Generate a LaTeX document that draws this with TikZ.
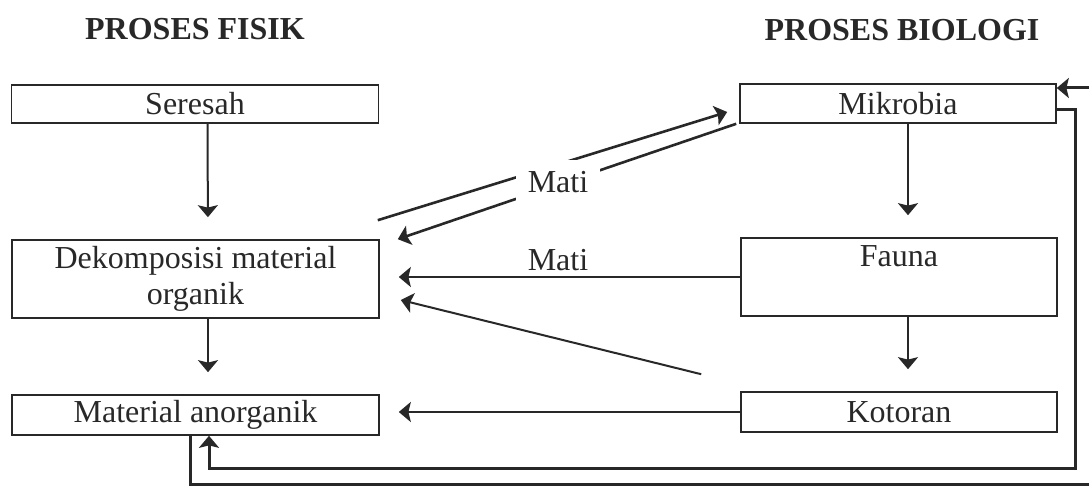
\documentclass[tikz,border=0pt]{standalone}
\usepackage{fontspec}
\setmainfont{Liberation Serif}
\usetikzlibrary{arrows.meta,positioning}
\definecolor{inkgray}{RGB}{40,40,40}

\begin{document}
\begin{tikzpicture}[x=0.5pt, y=-0.5pt,
		font=\fontsize{16}{18}\selectfont, text=inkgray,
		procbox/.style={draw=inkgray, line width=0.8pt, minimum width=183.5pt,
			minimum height=20pt, align=center, inner sep=2pt},
		biobox/.style={procbox, minimum width=158pt},
		headtxt/.style={font=\fontsize{16}{18}\selectfont\bfseries},
		matilbl/.style={fill=white, inner sep=6pt, anchor=base},
		arrow/.style={-{Stealth[length=6pt,width=10pt,inset=1.2pt]}, line width=1pt, draw=inkgray},
		diagarrow/.style={arrow, line width=1.3pt},
		backline/.style={arrow, line width=1.5pt}
	]
		\useasboundingbox (0,0) rectangle (1089,486);
		\clip (0,0) rectangle (1089,486);
		% judul kolom
		\node[headtxt] (fisik) at (195,29) {PROSES FISIK};
		\node[headtxt] (biologi) at (902,30) {PROSES BIOLOGI};
		% proses fisik
		\node[procbox, minimum height=19pt] (seresah) at (195,104) {Seresah};
		\node[procbox, minimum height=39pt] (dekomp) at (195.5,279) {Dekomposisi material\\organik};
		\node[procbox] (anorg) at (195.5,415) {Material anorganik};
		% proses biologi
		\node[biobox, minimum height=19.5pt] (mikrobia) at (898,103.5) {Mikrobia};
		\node[biobox, minimum height=39pt, text depth=21pt] (fauna) at (899,277) {Fauna};
		\node[biobox] (kotoran) at (899,412) {Kotoran};
		% panah vertikal
		\draw[arrow, shorten >=11pt] ([xshift=6.25pt]seresah.south) -- ([xshift=6.25pt]dekomp.north);
		\draw[arrow, shorten >=11pt] ([xshift=6.25pt]dekomp.south) -- ([xshift=6.25pt]anorg.north);
		\draw[arrow, shorten >=11pt] ([xshift=5pt]mikrobia.south) -- ([xshift=4.5pt]fauna.north);
		\draw[arrow, shorten >=11pt] ([xshift=4.5pt]fauna.south) -- ([xshift=4.5pt]kotoran.north);
		% panah horizontal
		\draw[arrow, shorten >=9.5pt] (fauna.west) -- (dekomp.east |- fauna.west);
		\draw[arrow, shorten >=9.5pt] (kotoran.west) -- (anorg.east |- kotoran.west);
		\draw[arrow] ([shift={(-19.5pt,8.5pt)}]kotoran.north west) -- ([shift={(10.5pt,-10.5pt)}]dekomp.east);
		% mati
		\draw[diagarrow] ([shift={(-1pt,9.5pt)}]dekomp.north east) -- ([shift={(-6pt,-4.25pt)}]mikrobia.west);
		\draw[diagarrow] ([xshift=-1.5pt]mikrobia.south west) -- ([xshift=9pt]dekomp.north east);
		\node[matilbl] (mati1) at (558,193) {Mati};
		\node[anchor=base] (mati2) at (558,271) {Mati};
		% umpan balik
		\coordinate (cornerA) at (1075,469);
		\coordinate (cornerB) at (1094,485);
		\draw[backline] ([yshift=-3.25pt]mikrobia.east) -| (cornerA) -| ([xshift=6.75pt]anorg.south);
		\draw[backline] ([xshift=-2.75pt]anorg.south) |- (cornerB) |- ([yshift=7.75pt]mikrobia.east);
	\end{tikzpicture}
\end{document}
